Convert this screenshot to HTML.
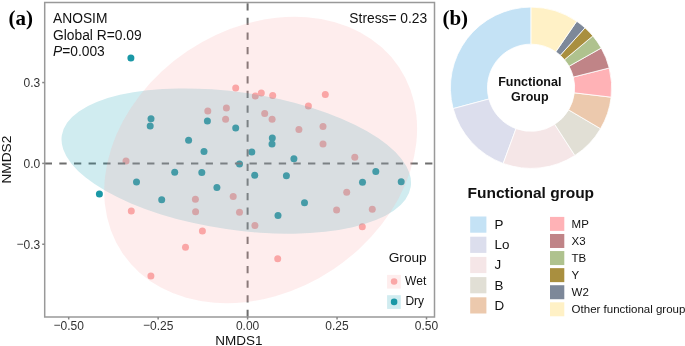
<!DOCTYPE html><html><head><meta charset="utf-8"><style>
html,body{margin:0;padding:0;background:#fff;}body{width:685px;height:346px;overflow:hidden;position:relative;}
svg{position:absolute;left:0;top:0;display:block;will-change:transform;}
text{font-family:"Liberation Sans", sans-serif;}
</style></head><body>
<svg width="685" height="346" viewBox="0 0 685 346">
<defs><clipPath id="pc"><rect x="44.70" y="2.50" width="389.80" height="314.50"/></clipPath></defs>
<g clip-path="url(#pc)">
<circle cx="235.7" cy="88.1" r="3.50" fill="#faa7a7"/>
<circle cx="255.3" cy="95.9" r="3.50" fill="#faa7a7"/>
<circle cx="261.3" cy="92.9" r="3.50" fill="#faa7a7"/>
<circle cx="272.7" cy="95.5" r="3.50" fill="#faa7a7"/>
<circle cx="207.8" cy="110.9" r="3.50" fill="#faa7a7"/>
<circle cx="226.4" cy="108.1" r="3.50" fill="#faa7a7"/>
<circle cx="225.6" cy="119.2" r="3.50" fill="#faa7a7"/>
<circle cx="264.7" cy="113.5" r="3.50" fill="#faa7a7"/>
<circle cx="272.1" cy="119.2" r="3.50" fill="#faa7a7"/>
<circle cx="298.9" cy="129.6" r="3.50" fill="#faa7a7"/>
<circle cx="325.3" cy="94.4" r="3.50" fill="#faa7a7"/>
<circle cx="308.4" cy="105.9" r="3.50" fill="#faa7a7"/>
<circle cx="323.0" cy="126.4" r="3.50" fill="#faa7a7"/>
<circle cx="126.0" cy="160.9" r="3.50" fill="#faa7a7"/>
<circle cx="323.0" cy="144.0" r="3.50" fill="#faa7a7"/>
<circle cx="354.8" cy="157.2" r="3.50" fill="#faa7a7"/>
<circle cx="346.7" cy="192.2" r="3.50" fill="#faa7a7"/>
<circle cx="131.3" cy="210.9" r="3.50" fill="#faa7a7"/>
<circle cx="195.4" cy="199.2" r="3.50" fill="#faa7a7"/>
<circle cx="233.2" cy="196.5" r="3.50" fill="#faa7a7"/>
<circle cx="195.6" cy="211.8" r="3.50" fill="#faa7a7"/>
<circle cx="239.5" cy="212.2" r="3.50" fill="#faa7a7"/>
<circle cx="254.9" cy="225.4" r="3.50" fill="#faa7a7"/>
<circle cx="202.4" cy="230.9" r="3.50" fill="#faa7a7"/>
<circle cx="185.5" cy="247.3" r="3.50" fill="#faa7a7"/>
<circle cx="277.7" cy="258.7" r="3.50" fill="#faa7a7"/>
<circle cx="336.6" cy="209.9" r="3.50" fill="#faa7a7"/>
<circle cx="372.3" cy="209.3" r="3.50" fill="#faa7a7"/>
<circle cx="362.3" cy="226.8" r="3.50" fill="#faa7a7"/>
<circle cx="150.9" cy="275.9" r="3.50" fill="#faa7a7"/>
<circle cx="130.9" cy="58.1" r="3.50" fill="#1a98a6"/>
<circle cx="151.0" cy="118.8" r="3.50" fill="#1a98a6"/>
<circle cx="150.2" cy="125.9" r="3.50" fill="#1a98a6"/>
<circle cx="136.5" cy="182.1" r="3.50" fill="#1a98a6"/>
<circle cx="99.4" cy="194.1" r="3.50" fill="#1a98a6"/>
<circle cx="207.4" cy="121.1" r="3.50" fill="#1a98a6"/>
<circle cx="235.7" cy="128.1" r="3.50" fill="#1a98a6"/>
<circle cx="188.6" cy="140.2" r="3.50" fill="#1a98a6"/>
<circle cx="204.0" cy="151.4" r="3.50" fill="#1a98a6"/>
<circle cx="272.3" cy="137.9" r="3.50" fill="#1a98a6"/>
<circle cx="272.0" cy="144.0" r="3.50" fill="#1a98a6"/>
<circle cx="251.8" cy="151.9" r="3.50" fill="#1a98a6"/>
<circle cx="239.5" cy="163.9" r="3.50" fill="#1a98a6"/>
<circle cx="293.9" cy="158.8" r="3.50" fill="#1a98a6"/>
<circle cx="174.7" cy="172.2" r="3.50" fill="#1a98a6"/>
<circle cx="201.8" cy="172.6" r="3.50" fill="#1a98a6"/>
<circle cx="254.7" cy="175.3" r="3.50" fill="#1a98a6"/>
<circle cx="286.4" cy="175.7" r="3.50" fill="#1a98a6"/>
<circle cx="216.9" cy="187.4" r="3.50" fill="#1a98a6"/>
<circle cx="375.8" cy="171.6" r="3.50" fill="#1a98a6"/>
<circle cx="362.5" cy="182.3" r="3.50" fill="#1a98a6"/>
<circle cx="401.2" cy="181.7" r="3.50" fill="#1a98a6"/>
<circle cx="161.7" cy="199.8" r="3.50" fill="#1a98a6"/>
<circle cx="278.0" cy="215.6" r="3.50" fill="#1a98a6"/>
<circle cx="304.5" cy="202.7" r="3.50" fill="#1a98a6"/>
<line x1="44.70" y1="163.40" x2="434.50" y2="163.40" stroke="#6e6e6e" stroke-width="2" stroke-dasharray="7.32 7.31"/>
<line x1="247.60" y1="2.50" x2="247.60" y2="317.00" stroke="#6e6e6e" stroke-width="2" stroke-dasharray="7.25 7.35" stroke-dashoffset="-0.7"/>
<ellipse cx="236.27" cy="161.06" rx="176.34" ry="68.76" transform="rotate(8.34 236.27 161.06)" fill="#149eb2" fill-opacity="0.200"/>
<ellipse cx="260.65" cy="160.00" rx="166.60" ry="131.20" transform="rotate(-33.90 260.65 160.00)" fill="#faa7a5" fill-opacity="0.200"/>
</g>
<rect x="44.70" y="2.50" width="389.80" height="314.50" fill="none" stroke="#999" stroke-width="1.5"/>
<line x1="68.70" y1="317.00" x2="68.70" y2="319.50" stroke="#888" stroke-width="1.5"/>
<text x="68.70" y="330.3" font-size="12" fill="#333" text-anchor="middle"><tspan dy="-0.9">−</tspan><tspan dy="0.9">0.50</tspan></text>
<line x1="158.15" y1="317.00" x2="158.15" y2="319.50" stroke="#888" stroke-width="1.5"/>
<text x="158.15" y="330.3" font-size="12" fill="#333" text-anchor="middle"><tspan dy="-0.9">−</tspan><tspan dy="0.9">0.25</tspan></text>
<line x1="247.60" y1="317.00" x2="247.60" y2="319.50" stroke="#888" stroke-width="1.5"/>
<text x="247.60" y="330.3" font-size="12" fill="#333" text-anchor="middle">0.00</text>
<line x1="337.05" y1="317.00" x2="337.05" y2="319.50" stroke="#888" stroke-width="1.5"/>
<text x="337.05" y="330.3" font-size="12" fill="#333" text-anchor="middle">0.25</text>
<line x1="426.50" y1="317.00" x2="426.50" y2="319.50" stroke="#888" stroke-width="1.5"/>
<text x="426.50" y="330.3" font-size="12" fill="#333" text-anchor="middle">0.50</text>
<line x1="42.20" y1="82.55" x2="44.70" y2="82.55" stroke="#888" stroke-width="1.5"/>
<text x="40.2" y="86.95" font-size="12" fill="#333" text-anchor="end">0.3</text>
<line x1="42.20" y1="163.40" x2="44.70" y2="163.40" stroke="#888" stroke-width="1.5"/>
<text x="40.2" y="167.80" font-size="12" fill="#333" text-anchor="end">0.0</text>
<line x1="42.20" y1="244.25" x2="44.70" y2="244.25" stroke="#888" stroke-width="1.5"/>
<text x="40.2" y="248.65" font-size="12" fill="#333" text-anchor="end"><tspan dy="-0.9">−</tspan><tspan dy="0.9">0.3</tspan></text>
<text x="239" y="344.6" font-size="13.5" fill="#111" text-anchor="middle">NMDS1</text>
<text transform="translate(11.1 159.6) rotate(-90)" font-size="13.7" fill="#111" text-anchor="middle">NMDS2</text>
<text x="53.0" y="23.0" font-size="13.8" fill="#111">ANOSIM</text>
<text x="53.0" y="39.5" font-size="13.8" fill="#111">Global R=0.09</text>
<text x="53.0" y="55.6" font-size="13.8" fill="#111"><tspan font-style="italic">P</tspan>=0.003</text>
<text x="427.2" y="22.7" font-size="13.8" fill="#111" text-anchor="end">Stress= 0.23</text>
<text x="388.7" y="262.4" font-size="13.7" fill="#111">Group</text>
<rect x="387.1" y="274.9" width="13.7" height="13.7" fill="#feeded"/>
<circle cx="394.1" cy="281.5" r="3.3" fill="#faa7a7"/>
<rect x="387.1" y="295.2" width="13.7" height="13.7" fill="#d0ecf0"/>
<circle cx="394.1" cy="301.9" r="3.3" fill="#1a98a6"/>
<text x="405.1" y="284.7" font-size="12" fill="#111">Wet</text>
<text x="405.4" y="305.3" font-size="12" fill="#111">Dry</text>
<text x="8.5" y="24.5" style="font-family:'Liberation Serif',serif" font-weight="bold" font-size="21" fill="#000">(a)</text>
<text x="442.4" y="25.1" style="font-family:'Liberation Serif',serif" font-weight="bold" font-size="21" fill="#000">(b)</text>
<path d="M531.05 7.10 A80.65 80.65 0 0 0 453.15 108.62 L488.94 99.03 A43.60 43.60 0 0 1 531.05 44.15 Z" fill="#c4e2f5" stroke="#fff" stroke-width="0.8"/>
<path d="M453.15 108.62 A80.65 80.65 0 0 0 503.20 163.44 L515.99 128.67 A43.60 43.60 0 0 1 488.94 99.03 Z" fill="#dcdeed" stroke="#fff" stroke-width="0.8"/>
<path d="M503.20 163.44 A80.65 80.65 0 0 0 574.86 155.47 L554.73 124.36 A43.60 43.60 0 0 1 515.99 128.67 Z" fill="#f5e6e7" stroke="#fff" stroke-width="0.8"/>
<path d="M574.86 155.47 A80.65 80.65 0 0 0 600.54 128.68 L568.62 109.88 A43.60 43.60 0 0 1 554.73 124.36 Z" fill="#e1dfd5" stroke="#fff" stroke-width="0.8"/>
<path d="M600.54 128.68 A80.65 80.65 0 0 0 611.15 97.16 L574.35 92.84 A43.60 43.60 0 0 1 568.62 109.88 Z" fill="#ecc9ad" stroke="#fff" stroke-width="0.8"/>
<path d="M611.15 97.16 A80.65 80.65 0 0 0 609.24 67.97 L573.32 77.05 A43.60 43.60 0 0 1 574.35 92.84 Z" fill="#ffb2b6" stroke="#fff" stroke-width="0.8"/>
<path d="M609.24 67.97 A80.65 80.65 0 0 0 601.24 48.04 L569.00 66.28 A43.60 43.60 0 0 1 573.32 77.05 Z" fill="#c08487" stroke="#fff" stroke-width="0.8"/>
<path d="M601.24 48.04 A80.65 80.65 0 0 0 592.83 35.91 L564.45 59.72 A43.60 43.60 0 0 1 569.00 66.28 Z" fill="#afc28e" stroke="#fff" stroke-width="0.8"/>
<path d="M592.83 35.91 A80.65 80.65 0 0 0 585.02 27.82 L560.22 55.35 A43.60 43.60 0 0 1 564.45 59.72 Z" fill="#a98f3f" stroke="#fff" stroke-width="0.8"/>
<path d="M585.02 27.82 A80.65 80.65 0 0 0 576.73 21.28 L555.75 51.82 A43.60 43.60 0 0 1 560.22 55.35 Z" fill="#7d8899" stroke="#fff" stroke-width="0.8"/>
<path d="M576.73 21.28 A80.65 80.65 0 0 0 531.05 7.10 L531.05 44.15 A43.60 43.60 0 0 1 555.75 51.82 Z" fill="#fff1c6" stroke="#fff" stroke-width="0.8"/>
<text x="529.8" y="85.8" font-size="12.5" font-weight="bold" fill="#111" text-anchor="middle">Functional</text>
<text x="529.8" y="100.9" font-size="12.5" font-weight="bold" fill="#111" text-anchor="middle">Group</text>
<text x="467.5" y="197.5" font-size="15.5" font-weight="bold" fill="#111">Functional group</text>
<rect x="470.2" y="216.50" width="16.2" height="16.2" fill="#c4e2f5"/>
<text x="494.5" y="228.90" font-size="13.4" fill="#111">P</text>
<rect x="470.2" y="236.70" width="16.2" height="16.2" fill="#dcdeed"/>
<text x="494.5" y="249.10" font-size="13.4" fill="#111">Lo</text>
<rect x="470.2" y="256.90" width="16.2" height="16.2" fill="#f5e6e7"/>
<text x="494.5" y="269.30" font-size="13.4" fill="#111">J</text>
<rect x="470.2" y="277.10" width="16.2" height="16.2" fill="#e1dfd5"/>
<text x="494.5" y="289.50" font-size="13.4" fill="#111">B</text>
<rect x="470.2" y="297.30" width="16.2" height="16.2" fill="#ecc9ad"/>
<text x="494.5" y="309.70" font-size="13.4" fill="#111">D</text>
<rect x="550" y="216.90" width="14.3" height="14.0" fill="#ffb2b6"/>
<text x="571.6" y="227.70" font-size="11.5" fill="#111">MP</text>
<rect x="550" y="233.98" width="14.3" height="14.0" fill="#c08487"/>
<text x="571.6" y="244.78" font-size="11.5" fill="#111">X3</text>
<rect x="550" y="251.06" width="14.3" height="14.0" fill="#afc28e"/>
<text x="571.6" y="261.86" font-size="11.5" fill="#111">TB</text>
<rect x="550" y="268.14" width="14.3" height="14.0" fill="#a98f3f"/>
<text x="571.6" y="278.94" font-size="11.5" fill="#111">Y</text>
<rect x="550" y="285.22" width="14.3" height="14.0" fill="#7d8899"/>
<text x="571.6" y="296.02" font-size="11.5" fill="#111">W2</text>
<rect x="550" y="302.30" width="14.3" height="14.0" fill="#fff1c6"/>
<text x="571.6" y="313.10" font-size="11.5" fill="#111">Other functional group</text>
</svg></body></html>
